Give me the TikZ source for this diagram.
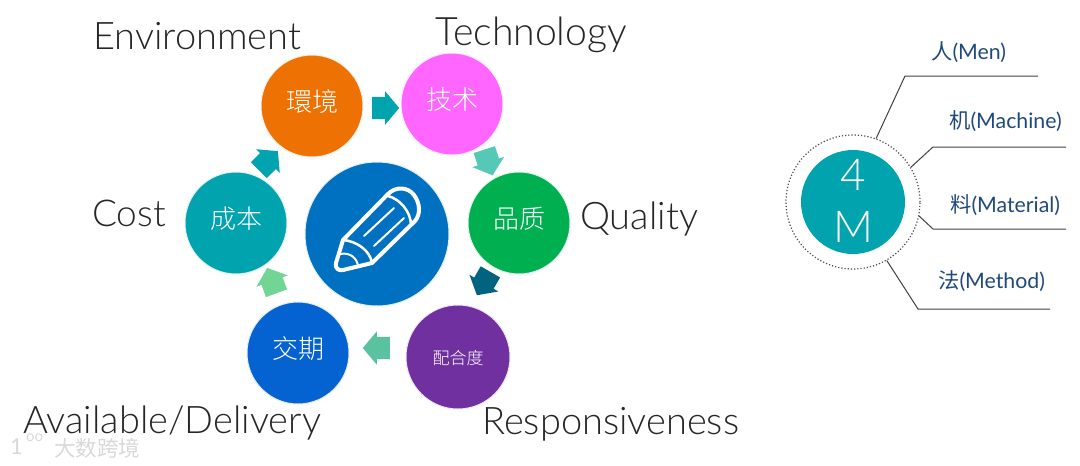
\documentclass[tikz,border=0pt]{standalone}
\usepackage{fontspec}
\setmainfont{Lato Light}
\newfontfamily\reg{Lato}
\newfontfamily\cjk{Noto Sans CJK SC Light}
\newfontfamily\cjkreg{Noto Sans CJK SC}
\usetikzlibrary{shapes.arrows}
\definecolor{cOrange}{HTML}{EE7203}
\definecolor{cPink}{HTML}{FF66FF}
\definecolor{cGreen}{HTML}{00B050}
\definecolor{cPurple}{HTML}{7030A0}
\definecolor{cBlue}{HTML}{0563D1}
\definecolor{cTeal}{HTML}{00A3AE}
\definecolor{cCentre}{HTML}{0070C0}
\definecolor{cLabel}{HTML}{1F497D}
\definecolor{cFlowA}{HTML}{55C8B8}
\definecolor{cFlowB}{HTML}{006480}
\definecolor{cFlowC}{HTML}{5BC2A0}
\definecolor{cFlowD}{HTML}{72D596}
\tikzset{
	disc/.style={circle, fill=#1, draw=#1!12, line width=1pt, minimum size=102pt, inner sep=0pt, text=white, text height=20pt, text depth=10pt, font=\cjk\fontsize{26}{26}\selectfont},
	flow/.style={single arrow, fill=#1, minimum height=27pt, minimum width=33pt, single arrow head extend=5.5pt, single arrow head indent=0pt, single arrow tip angle=100, inner sep=0pt},
	word/.style={text=black!85, font=\fontsize{38}{38}\selectfont, inner sep=0pt},
	mlabel/.style={text=cLabel, font=\reg\fontsize{21.3}{21.3}\selectfont, inner sep=0pt},
	leader/.style={draw=black!75, line width=1pt},
}
\newcommand{\shaft}{\rule{0pt}{22pt}}
\begin{document}
\begin{tikzpicture}[x=1pt,y=-1pt]
	\useasboundingbox (0,0) rectangle (1080,466);
	%Cerchi
	\node [disc=cOrange] (env) at (312,106) {環境};
	\node [disc=cPink] (tech) at (452,104) {技术};
	\node [disc=cGreen] (qual) at (519,223) {品质};
	\node [disc=cPurple, minimum size=104pt, text depth=5pt, font=\cjk\fontsize{17}{17}\selectfont] (resp) at (458,357) {配合度};
	\node [disc=cBlue] (deliv) at (298,353) {交期};
	\node [disc=cTeal] (cost) at (236,223) {成本};
	\node [circle, fill=cCentre, draw=cCentre!12, line width=1pt, minimum size=144pt, inner sep=0pt] (centre) at (377,234) {};
	%Matita
	\begin{scope}[white, line width=4pt, line join=round, line cap=round]
		\draw (336,263) -- (343,240) -- (388,194) .. controls (396,186) and (408,187) .. (414,195) .. controls (420,203) and (421,214) .. (415,221) -- (372,263) -- (343,270) .. controls (338,271) and (335,268) .. (336,263) -- cycle;
		\draw [line width=2.5pt] (343,240) .. controls (356,241) and (370,250) .. (372,263);
		\draw [line width=2.5pt] (388,196) .. controls (400,199) and (411,212) .. (411,225);
		\draw [line width=2pt] (340,254) .. controls (350,252) and (357,258) .. (358,266);
		\draw [line width=2pt] (364,236) -- (394,208);
		\draw [line width=2pt] (374,246) -- (404,218);
	\end{scope}
	%Frecce
	\node [flow=cTeal] (a1) at (381,108) {\shaft};
	\node [flow=cFlowA, rotate=-72] (a2) at (487,158) {\shaft};
	\node [flow=cFlowB, rotate=-120] (a3) at (486,279.5) {\shaft};
	\node [flow=cFlowC, rotate=180] (a4) at (381,348) {\shaft};
	\node [flow=cFlowD, rotate=110] (a5) at (273.5,285) {\shaft};
	\node [flow=cTeal, rotate=45] (a6) at (265,164) {\shaft};
	%Etichette
	\node [word, anchor=west] (lenv) at (93,36) {Environment};
	\node [word, anchor=west, font=\fontsize{39.2}{39.2}\selectfont] (ltech) at (435,35) {Technology};
	\node [word, anchor=west, font=\fontsize{37}{37}\selectfont] (lcost) at (92,213) {Cost};
	\node [word, anchor=west] (lqual) at (580,219) {Quality};
	\node [word, anchor=west] (ldeliv) at (23,423) {Available/Delivery};
	\node [word, anchor=west] (lresp) at (482,424) {Responsiveness};
	%4M
	\node [circle, draw=black!70, dotted, line width=1.2pt, minimum size=134pt, inner sep=0pt] (ring) at (853,202) {};
	\node [circle, fill=cTeal, minimum size=104pt, inner sep=0pt] (four) at (853,202) {};
	\node [text=white, font=\fontsize{44}{44}\selectfont, inner sep=0pt] (n4) at (853,175) {4};
	\node [text=white, font=\fontsize{44}{44}\selectfont, inner sep=0pt] (nM) at (853,227) {M};
	\coordinate (menA) at (905,76);
	\coordinate (menB) at (1038,76);
	\coordinate (macA) at (933,147);
	\coordinate (macB) at (1066,147);
	\coordinate (matA) at (933,229);
	\coordinate (matB) at (1066,229);
	\coordinate (metA) at (918,309);
	\coordinate (metB) at (1050,309);
	\draw [leader] (ring.70) -- (menA) -- (menB);
	\draw [leader] (ring.31) -- (macA) -- (macB);
	\draw [leader] (ring.-12) -- (matA) -- (matB);
	\draw [leader] (ring.-60) -- (metA) -- (metB);
	\node [mlabel, anchor=west] (lmen) at (931,52) {{\cjkreg 人}(Men)};
	\node [mlabel, anchor=west] (lmac) at (949,121) {{\cjkreg 机}(Machine)};
	\node [mlabel, anchor=west] (lmat) at (950,205) {{\cjkreg 料}(Material)};
	\node [mlabel, anchor=west] (lmet) at (938,281) {{\cjkreg 法}(Method)};
	%Filigrana
	\node [text=black!15, font=\cjkreg\fontsize{21.5}{21.5}\selectfont, inner sep=0pt, anchor=west] (mark) at (54,448) {大数跨境};
	\node [text=black!15, font=\reg\fontsize{22}{22}\selectfont, inner sep=0pt, anchor=west] (logo) at (10,447) {1};
	\node [text=black!15, font=\reg\fontsize{15}{15}\selectfont, inner sep=0pt, anchor=west] (logob) at (26,438) {oo};
\end{tikzpicture}
\end{document}
